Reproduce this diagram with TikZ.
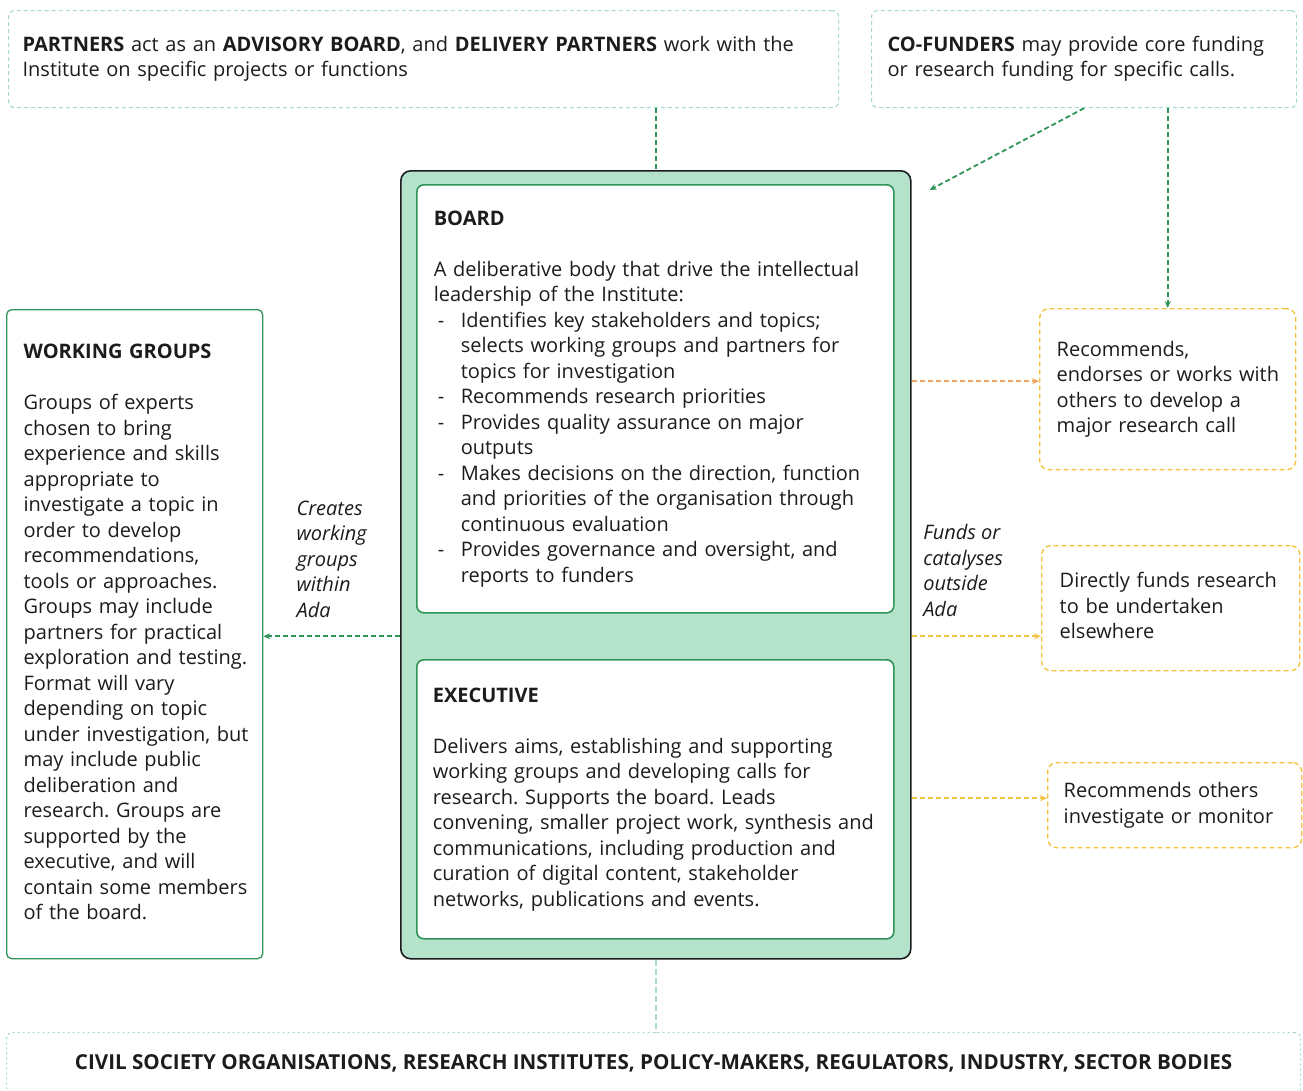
\documentclass[tikz,border=0pt]{standalone}
\usepackage{fontspec}
\setmainfont{Open Sans}
\usepackage{tikz}
\usetikzlibrary{positioning,arrows.meta,calc}
\definecolor{adagreen}{HTML}{2F9458}
\definecolor{adamint}{HTML}{B5E2CB}
\definecolor{adapale}{HTML}{A6DCC6}
\definecolor{adayellow}{HTML}{F3C443}
\definecolor{adaorange}{HTML}{F0A55C}
\definecolor{adaink}{HTML}{1C1C1C}

\newcommand{\bodyfont}{\fontsize{20}{25.5}\selectfont}
\newcommand{\stack}[1]{\begin{tabular}{@{}l@{}}#1\end{tabular}}
\newcommand{\itm}{\makebox[27pt][l]{\hspace{4pt}-}}
\newcommand{\ind}{\hspace*{27pt}}
\frenchspacing

\begin{document}
\begin{tikzpicture}[
  x=1pt, y=-1pt,
  font=\bodyfont, text=adaink,
  note/.style={draw=adapale, line width=1.2pt, dash pattern=on 4pt off 3pt, rounded corners=6pt, anchor=north west, align=left},
  panel/.style={draw=adagreen, fill=white, line width=1.6pt, rounded corners=7pt, anchor=north west, align=left},
  callout/.style={draw=adayellow, line width=1.4pt, dash pattern=on 5pt off 3pt, rounded corners=9pt, anchor=north west, align=left},
  arrow/.style={-{Stealth[length=7pt,width=6pt]}, draw=adagreen, line width=1.8pt, dash pattern=on 5pt off 3pt},
  lbl/.style={font=\bodyfont\itshape, align=left, text=adaink, inner sep=3pt}
]
  \clip (0,0) rectangle (1303,1090);

  % Top notes
  \node[note, text width=802pt, inner xsep=14pt, minimum height=97pt] (partners) at (8,10)
    {\stack{\textbf{PARTNERS} act as an \textbf{ADVISORY BOARD}, and \textbf{DELIVERY PARTNERS} work with the\\
     Institute on specific projects or functions}};
  \node[note, text width=393pt, inner xsep=16pt, minimum height=97pt] (cofund) at (871,10)
    {\stack{\textbf{CO-FUNDERS} may provide core funding\\
     or research funding for specific calls.}};

  % Ada
  \node[draw=adaink, fill=adamint, line width=1.6pt, rounded corners=10pt, minimum width=510pt, minimum height=788pt, anchor=north west] (main) at (400,170) {};
  \node[panel, text width=443pt, inner xsep=17pt, minimum height=428pt] (board) at (416,184)
    {\stack{\textbf{BOARD}\\ \\
     A deliberative body that drive the intellectual\\
     leadership of the Institute:\\
     \itm Identifies key stakeholders and topics;\\
     \ind selects working groups and partners for\\
     \ind topics for investigation\\
     \itm Recommends research priorities\\
     \itm Provides quality assurance on major\\
     \ind outputs\\
     \itm Makes decisions on the direction, function\\
     \ind and priorities of the organisation through\\
     \ind continuous evaluation\\
     \itm Provides governance and oversight, and\\
     \ind reports to funders}};
  \node[panel, text width=445pt, inner xsep=16pt, minimum height=279pt] (exec) at (416,659)
    {\stack{\textbf{EXECUTIVE}\\ \\
     Delivers aims, establishing and supporting\\
     working groups and developing calls for\\
     research. Supports the board. Leads\\
     convening, smaller project work, synthesis and\\
     communications, including production and\\
     curation of digital content, stakeholder\\
     networks, publications and events.}};

  % Working groups
  \node[panel, line width=1.3pt, rounded corners=5pt, text width=222pt, inner xsep=17pt, minimum height=649pt] (wg) at (6,309)
    {\stack{\textbf{WORKING GROUPS}\\ \\
     Groups of experts\\
     chosen to bring\\
     experience and skills\\
     appropriate to\\
     investigate a topic in\\
     order to develop\\
     recommendations,\\
     tools or approaches.\\
     Groups may include\\
     partners for practical\\
     exploration and testing.\\
     Format will vary\\
     depending on topic\\
     under investigation, but\\
     may include public\\
     deliberation and\\
     research. Groups are\\
     supported by the\\
     executive, and will\\
     contain some members\\
     of the board.}};

  % Outside Ada
  \node[callout, text width=222pt, inner xsep=17pt, minimum height=161pt] (rec) at (1039,308)
    {\stack{Recommends,\\ endorses or works with\\ others to develop a\\ major research call}};
  \node[callout, text width=222pt, inner xsep=18pt, minimum height=125pt] (direct) at (1041,545)
    {\stack{Directly funds research\\ to be undertaken\\ elsewhere}};
  \node[callout, text width=222pt, inner xsep=16pt, minimum height=85pt] (others) at (1047,762)
    {\stack{Recommends others\\ investigate or monitor}};

  \node[note, dash pattern=on 2pt off 3pt, minimum width=1294pt, minimum height=62pt, align=center] (civil) at (6,1032)
    {\fontsize{20.6}{25.5}\selectfont\textbf{CIVIL SOCIETY ORGANISATIONS, RESEARCH INSTITUTES, POLICY-MAKERS, REGULATORS, INDUSTRY, SECTOR BODIES}};

  % Connectors
  \coordinate (gap) at ($(board.south)!0.5!(exec.north)$);
  \coordinate (recin) at ([yshift=8pt]rec.west);
  \coordinate (othin) at ([yshift=7pt]others.west);

  \draw[arrow, -] (partners.south -| main.north) -- (main.north);
  \draw[arrow] (cofund.south) -- ([shift={(18pt,-20pt)}]main.north east);
  \draw[arrow] (cofund.south -| rec.north) -- (rec.north);

  \draw[arrow] (main.west |- gap) -- node[midway, above=15pt, lbl] {Creates\\working\\groups\\within\\Ada} (wg.east |- gap);
  \draw[arrow, draw=adaorange] (main.east |- recin) -- (recin);
  \draw[arrow, draw=adayellow] (main.east |- gap) -- node[pos=0.06, anchor=south west, yshift=16pt, lbl] {Funds or\\catalyses\\outside\\Ada} (direct.west |- gap);
  \draw[arrow, draw=adayellow] (main.east |- othin) -- (othin);

  \draw[draw=adapale, line width=1.4pt, dash pattern=on 6pt off 3pt] (main.south) -- (main.south |- civil.north);
\end{tikzpicture}
\end{document}
